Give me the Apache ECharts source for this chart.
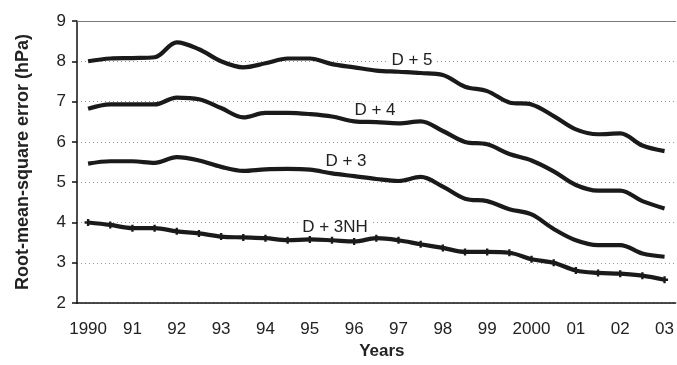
<!DOCTYPE html>
<html>
<head>
<meta charset="utf-8">
<script src="https://cdn.jsdelivr.net/npm/echarts@6/dist/echarts.min.js"></script>
<style>
  html, body { margin: 0; padding: 0; background: #fff; }
  #chart { width: 677px; height: 365px; }
</style>
</head>
<body>
<div id="chart"></div>
<script>
// year labels, one per year; each year has two half-year points
const yearLabels = ['1990', '91', '92', '93', '94', '95', '96', '97', '98', '99', '2000', '01', '02', '03']

// RMS error (hPa), half-year steps from 1990 to 2003
const d5 = [8.0, 8.07, 8.08, 8.1, 8.47, 8.3, 8.0, 7.85, 7.95, 8.07, 8.07, 7.93, 7.85, 7.77, 7.74, 7.71, 7.66, 7.37, 7.26, 6.98, 6.93, 6.64, 6.31, 6.19, 6.21, 5.91, 5.77]
const d4 = [6.82, 6.93, 6.93, 6.93, 7.1, 7.06, 6.84, 6.61, 6.72, 6.72, 6.69, 6.63, 6.51, 6.49, 6.46, 6.51, 6.27, 6.0, 5.94, 5.7, 5.54, 5.27, 4.93, 4.79, 4.79, 4.53, 4.35]
const d3 = [5.46, 5.52, 5.52, 5.48, 5.62, 5.54, 5.38, 5.28, 5.32, 5.33, 5.31, 5.22, 5.15, 5.08, 5.03, 5.13, 4.89, 4.59, 4.53, 4.33, 4.2, 3.84, 3.56, 3.44, 3.44, 3.23, 3.15]
const d3nh = [4.0, 3.94, 3.86, 3.86, 3.78, 3.73, 3.65, 3.63, 3.61, 3.56, 3.58, 3.56, 3.53, 3.61, 3.56, 3.46, 3.37, 3.27, 3.27, 3.25, 3.09, 3.0, 2.81, 2.75, 2.73, 2.68, 2.58]

const seriesNames = ['D + 5', 'D + 4', 'D + 3', 'D + 3NH']

// build half-year categories: "1990", "1990.5", "91", ...
const categories = []
yearLabels.forEach(y => { categories.push(y); categories.push(y + '.5') })
categories.length = d5.length

const font = 'Liberation Sans, Arial, sans-serif'
const ink = '#1a1a1a'

function lineSeries(name, data, marker) {
  return {
    name: name,
    type: 'line',
    data: data,
    smooth: 0.35,
    showSymbol: marker,
    symbol: 'path://M2,0H4V2H6V4H4V6H2V4H0V2H2Z',
    symbolSize: 7,
    itemStyle: { color: ink },
    lineStyle: { color: ink, width: 4.2 },
    z: 5
  }
}

const chart = echarts.init(document.getElementById('chart'))

chart.setOption({
  animation: false,
  textStyle: { fontFamily: font },
  grid: { left: 77, right: 1, top: 21, bottom: 56, containLabel: false },
  xAxis: [{
    type: 'category',
    data: categories,
    boundaryGap: true,
    name: 'Years',
    nameLocation: 'middle',
    nameGap: 39,
    nameTextStyle: { fontSize: 17, fontWeight: 'bold', color: '#222', padding: [0, 0, 0, 11] },
    axisLine: { lineStyle: { color: '#111', width: 1.5 } },
    axisTick: { interval: 0, length: 6, lineStyle: { color: '#111', width: 1.5 } },
    axisLabel: {
      interval: 1,
      margin: 18,
      fontSize: 17,
      color: '#222',
      formatter: v => v.indexOf('.5') >= 0 ? '' : v
    },
    splitLine: { show: false }
  }, {
    type: 'category',
    data: categories,
    position: 'top',
    axisLine: { lineStyle: { color: '#777', width: 1.2 } },
    axisTick: { show: false },
    axisLabel: { show: false }
  }],
  yAxis: {
    type: 'value',
    min: 2,
    max: 9,
    interval: 1,
    name: 'Root-mean-square error (hPa)',
    nameLocation: 'middle',
    nameGap: 45,
    nameTextStyle: { fontSize: 18, fontWeight: 'bold', color: '#222' },
    axisLine: { show: true, onZero: false, lineStyle: { color: '#111', width: 1.5 } },
    axisTick: { show: true, length: 5, lineStyle: { color: '#111', width: 1.5 } },
    axisLabel: { fontSize: 17, color: '#222', margin: 11 },
    splitLine: { lineStyle: { color: '#999', type: [1, 3], width: 1 } }
  },
  series: [
    lineSeries(seriesNames[0], d5, false),
    lineSeries(seriesNames[1], d4, false),
    lineSeries(seriesNames[2], d3, false),
    lineSeries(seriesNames[3], d3nh, true)
  ],
  graphic: [
    { x: 412, y: 60, label: seriesNames[0] },
    { x: 375, y: 110, label: seriesNames[1] },
    { x: 346, y: 161, label: seriesNames[2] },
    { x: 335, y: 227, label: seriesNames[3] }
  ].map(p => ({
    type: 'text',
    x: p.x,
    y: p.y,
    z: 10,
    style: {
      text: p.label,
      font: '17px ' + font,
      fill: '#222',
      align: 'center',
      verticalAlign: 'middle',
      backgroundColor: '#fff',
      padding: [0, 3]
    }
  }))
})
</script>
</body>
</html>
